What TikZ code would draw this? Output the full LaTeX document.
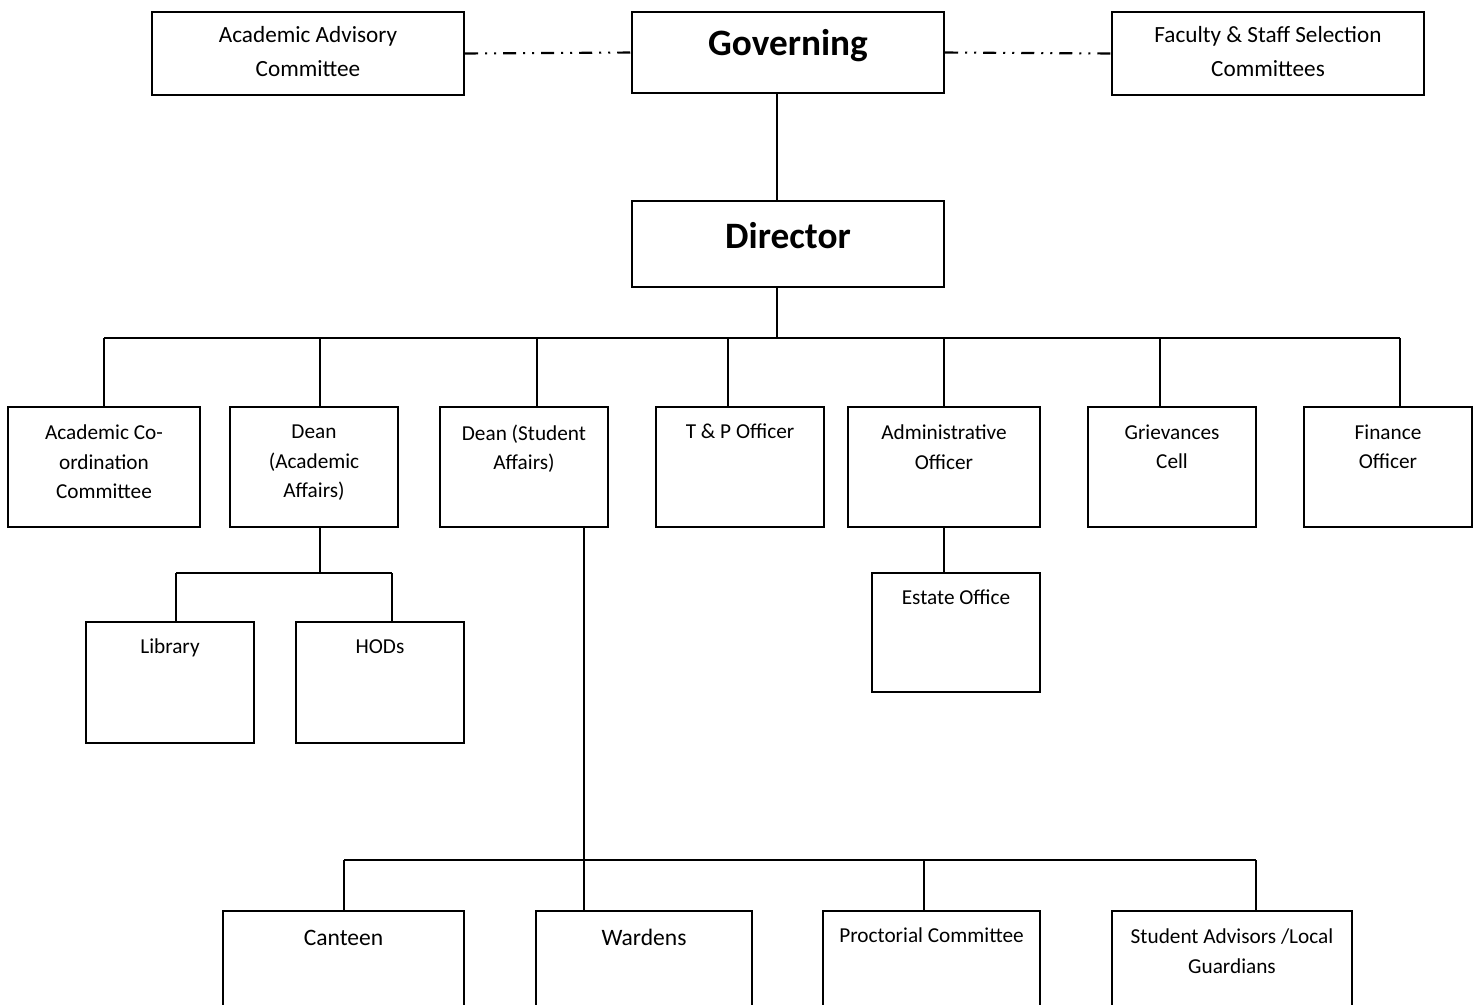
\documentclass[tikz,border=0pt]{standalone}
\usepackage{fontspec}
\setmainfont{Carlito}
\usepackage{tikz}

\tikzset{
  unit/.style={draw, line width=0.7pt, inner sep=0pt},
  txtbase/.style={anchor=north, inner sep=0pt, align=center, execute at begin node=\strut},
  lbl/.style={txtbase, yshift=-0.11cm, font=\fontsize{6.05}{8.5}\selectfont},
  toplbl/.style={txtbase, yshift=-0.075cm, font=\fontsize{6.6}{9.7}\selectfont},
  bigtxt/.style={txtbase, yshift=-0.145cm, font=\bfseries\fontsize{10.6}{12}\selectfont},
  midtxt/.style={txtbase, yshift=-0.14cm, font=\fontsize{6.7}{8.5}\selectfont},
  stack/.style={yshift=-0.07cm},
  link/.style={line width=0.6pt},
  advise/.style={line width=0.6pt, dash pattern=on 0.13cm off 0.07cm on 0.02cm off 0.07cm on 0.02cm off 0.07cm}
}

\begin{document}
\begin{tikzpicture}
\clip (0,0) rectangle (14.78,-10.04);

% top row
\node[unit, minimum width=3.12cm, minimum height=0.83cm, label={[toplbl, stack]north:{Academic Advisory\\Committee}}] (aac) at (3.08,-0.535) {};
\node[unit, minimum width=3.12cm, minimum height=0.81cm, label={[bigtxt]north:Governing}] (gov) at (7.88,-0.525) {};
\node[unit, minimum width=3.12cm, minimum height=0.83cm, label={[toplbl, stack]north:{Faculty \& Staff Selection\\Committees}}] (fss) at (12.68,-0.535) {};
\draw[advise] (aac.east) -- (gov.west);
\draw[advise] (gov.east) -- (fss.west);

\node[unit, minimum width=3.12cm, minimum height=0.86cm, label={[bigtxt, yshift=-0.04cm]north:Director}] (dir) at (7.88,-2.44) {};
\coordinate (g1) at (7.77,0);
\draw[link] (g1 |- gov.south) -- (g1 |- dir.north);

% second row
\node[unit, minimum width=1.92cm, minimum height=1.2cm, label={[lbl, stack]north:{Academic Co-\\ordination\\Committee}}] (acc) at (1.04,-4.67) {};
\node[unit, minimum width=1.68cm, minimum height=1.2cm, label={[lbl, stack]north:{Dean\\(Academic\\Affairs)}}] (daa) at (3.14,-4.67) {};
\node[unit, minimum width=1.68cm, minimum height=1.2cm, label={[lbl, stack]north:{Dean (Student\\Affairs)}}] (dsa) at (5.24,-4.67) {};
\node[unit, minimum width=1.68cm, minimum height=1.2cm, label={[lbl]north:{T \& P Officer}}] (tpo) at (7.40,-4.67) {};
\node[unit, minimum width=1.92cm, minimum height=1.2cm, label={[lbl, stack]north:{Administrative\\Officer}}] (ado) at (9.44,-4.67) {};
\node[unit, minimum width=1.68cm, minimum height=1.2cm, label={[lbl, stack]north:{Grievances\\Cell}}] (grc) at (11.72,-4.67) {};
\node[unit, minimum width=1.68cm, minimum height=1.2cm, label={[lbl, stack]north:{Finance\\Officer}}] (fio) at (13.88,-4.67) {};

\coordinate (bus) at (7.77,-3.38);
\draw[link] (g1 |- dir.south) -- (bus);
\draw[link] (1.04,-3.38) -- (14.00,-3.38);
\foreach \x/\n in {1.04/acc, 3.20/daa, 5.37/dsa, 7.28/tpo, 9.44/ado, 11.60/grc, 14.00/fio}
  \draw[link] (\x,-3.38) -- (\x,0 |- \n.north);

% under the dean (academic affairs)
\node[unit, minimum width=1.68cm, minimum height=1.21cm, label={[lbl]north:Library}] (lib) at (1.70,-6.825) {};
\node[unit, minimum width=1.68cm, minimum height=1.21cm, label={[lbl]north:HODs}] (hod) at (3.80,-6.825) {};
\coordinate (d1) at (3.20,-5.73);
\draw[link] (d1 |- daa.south) -- (d1);
\draw[link] (1.76,-5.73) -- (3.92,-5.73);
\draw[link] (1.76,-5.73) -- (1.76,0 |- lib.north);
\draw[link] (3.92,-5.73) -- (3.92,0 |- hod.north);

% under the administrative officer
\node[unit, minimum width=1.68cm, minimum height=1.19cm, label={[lbl]north:{Estate Office}}] (est) at (9.56,-6.325) {};
\draw[link] (ado.south) -- (ado.south |- est.north);

% under the dean (student affairs)
\node[unit, minimum width=2.41cm, minimum height=1.3cm, label={[midtxt]north:Canteen}] (can) at (3.435,-9.76) {};
\node[unit, minimum width=2.16cm, minimum height=1.3cm, label={[midtxt]north:Wardens}] (war) at (6.44,-9.76) {};
\node[unit, minimum width=2.17cm, minimum height=1.3cm, label={[lbl]north:{Proctorial Committee}}] (pro) at (9.315,-9.76) {};
\node[unit, minimum width=2.40cm, minimum height=1.3cm, label={[lbl, stack]north:{Student Advisors /Local\\Guardians}}] (sta) at (12.32,-9.76) {};
\coordinate (s1) at (5.84,-8.60);
\draw[link] (s1 |- dsa.south) -- (s1 |- war.north);
\draw[link] (3.44,-8.60) -- (12.56,-8.60);
\foreach \x/\n in {3.44/can, 9.24/pro, 12.56/sta}
  \draw[link] (\x,-8.60) -- (\x,0 |- \n.north);

\end{tikzpicture}
\end{document}
